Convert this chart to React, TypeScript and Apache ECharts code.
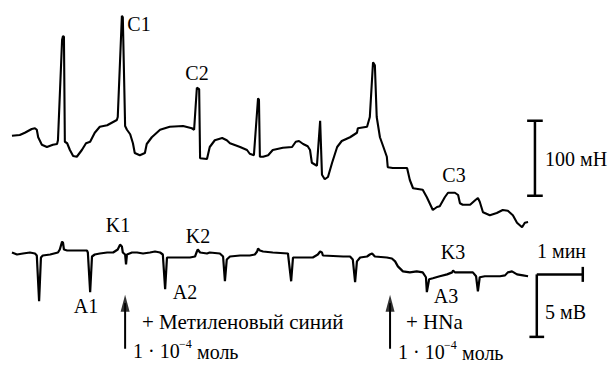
import React, { useEffect, useRef } from "react";
import * as echarts from "echarts";

// ---- Upper trace: contraction force (mN) vs time (min) ----
const forceTime = [
  0.00, 0.17, 0.28, 0.43, 0.50, 0.54, 0.57, 0.65, 0.76, 0.89,
  0.98, 1.00, 1.09, 1.11, 1.13, 1.15, 1.20, 1.26, 1.33, 1.41,
  1.52, 1.61, 1.70, 1.80, 1.91, 2.07, 2.28, 2.30, 2.39, 2.41,
  2.46, 2.50, 2.57, 2.63, 2.67, 2.78, 2.89, 2.93, 3.04, 3.22,
  3.43, 3.72, 3.91, 3.96, 4.02, 4.07, 4.09, 4.24, 4.30, 4.41,
  4.57, 4.67, 4.74, 4.96, 5.11, 5.17, 5.26, 5.35, 5.37, 5.39,
  5.46, 5.57, 5.67, 5.89, 6.09, 6.17, 6.24, 6.33, 6.43, 6.48,
  6.52, 6.63, 6.70, 6.74, 6.80, 6.87, 6.96, 7.07, 7.17, 7.35,
  7.50, 7.52, 7.72, 7.78, 7.85, 7.89, 7.93, 8.00, 8.07, 8.15,
  8.17, 8.28, 8.59, 8.65, 8.72, 8.93, 9.02, 9.15, 9.24, 9.30,
  9.41, 9.48, 9.63, 9.70, 9.74, 9.80, 9.96, 10.07, 10.13, 10.17,
  10.24, 10.39, 10.54, 10.67, 10.78, 10.89, 10.98, 11.09, 11.15, 11.22,
];
const forceValues = [
  139, 140, 143, 148, 149, 147, 137, 127, 124, 127,
  128, 133, 267, 272, 271, 131, 129, 120, 112, 111,
  120, 129, 131, 143, 151, 153, 160, 164, 299, 297,
  152, 147, 141, 129, 116, 113, 116, 128, 137, 147,
  151, 152, 149, 147, 203, 201, 109, 108, 124, 133,
  136, 133, 129, 124, 120, 115, 113, 189, 187, 111,
  111, 113, 120, 123, 124, 131, 132, 128, 125, 120,
  103, 99, 159, 87, 81, 84, 103, 124, 132, 137,
  143, 149, 151, 164, 237, 233, 164, 137, 125, 111,
  97, 96, 96, 80, 69, 67, 57, 40, 44, 45,
  57, 63, 63, 60, 49, 47, 47, 53, 56, 51,
  37, 33, 36, 40, 39, 33, 23, 17, 23, 24,
];

// ---- Lower trace: electrical potential (mV) vs time (min) ----
const potentialTime = [
  0.00, 0.11, 0.24, 0.39, 0.50, 0.54, 0.59, 0.63, 0.67, 0.83,
  1.00, 1.04, 1.09, 1.11, 1.13, 1.20, 1.41, 1.63, 1.65, 1.70,
  1.74, 1.80, 1.91, 2.07, 2.20, 2.30, 2.35, 2.39, 2.41, 2.46,
  2.48, 2.50, 2.61, 2.72, 2.85, 3.00, 3.11, 3.22, 3.28, 3.33,
  3.37, 3.65, 3.87, 3.98, 4.02, 4.04, 4.09, 4.24, 4.30, 4.52,
  4.59, 4.63, 4.67, 4.74, 4.96, 5.17, 5.28, 5.33, 5.35, 5.39,
  5.46, 5.67, 6.00, 6.07, 6.11, 6.54, 6.65, 6.70, 6.74, 6.76,
  7.20, 7.35, 7.41, 7.46, 7.50, 7.57, 7.72, 7.78, 7.83, 7.89,
  8.15, 8.26, 8.33, 8.39, 8.50, 8.65, 8.80, 8.93, 9.00, 9.02,
  9.07, 9.15, 9.30, 9.46, 9.57, 9.59, 9.63, 9.80, 10.02, 10.09,
  10.13, 10.17, 10.28, 10.46, 10.61, 10.72, 10.78, 10.87, 10.98, 11.11,
  11.22,
];
const potentialValues = [
  0, -0.16, -0.08, 0, -0.08, -0.24, -3.89, -0.40, -0.24, -0.16,
  0, 0.24, 0.87, 0.79, 0.24, 0.16, 0.16, 0.16, 0, -3.17,
  -0.32, -0.16, -0.08, 0, 0, 0.24, 0.63, 0.48, 0, -0.16,
  -0.95, -0.16, 0, 0, -0.08, 0, 0.08, 0, -0.16, -2.94,
  -0.40, -0.40, -0.40, -0.32, 0.08, 0.24, 0, -0.08, 0, -0.08,
  -0.32, -2.30, -0.56, -0.32, -0.24, -0.24, -0.16, 0.08, 0.32, 0.16,
  0.08, 0, -0.08, -2.30, -0.40, -0.40, -0.16, 0.08, 0, -0.24,
  -0.32, -0.32, -0.56, -2.38, -0.71, -0.40, -0.32, -0.16, -0.08, -0.32,
  -0.40, -0.48, -0.71, -1.11, -1.51, -1.59, -1.51, -1.59, -1.98, -3.17,
  -2.14, -2.06, -1.90, -1.75, -1.59, -1.43, -1.59, -1.59, -1.59, -1.90,
  -3.10, -1.98, -1.90, -1.90, -1.90, -1.83, -1.59, -1.51, -1.75, -1.83,
  -1.90,
];

// ---- Scale bars (100 mN, 1 min, 5 mV) ----
const forceBarTime = 11.37;
const forceBarRange = [59, 159]; // 100 mN
const potentialBarTime = 11.41;
const potentialBarRange = [-6.75, -1.75]; // 5 mV
const minuteBarRange = [11.41, 12.41]; // 1 min

// ---- Drug additions (arrows) ----
const additionTimes = [2.46, 8.22];
const arrowRange = [-7.7, -4.05];

// ---- Labels ----
const peakLabels = ["C1", "C2", "C3"];
const kLabels = ["K1", "K2", "K3"];
const aLabels = ["A1", "A2", "A3"];
const drugLabels = ["+ Метиленовый синий", "+ HNa"];
const doseMain = "1 · 10";
const doseExp = "−4";
const doseUnit = "моль";
const barLabels = ["100 мН", "1 мин", "5 мВ"];

const FONT = '"Liberation Serif", "Times New Roman", "DejaVu Serif", serif';

function zip(a: number[], b: number[]) {
  return a.map((v, i) => [v, b[i]]);
}

function seg(p: number[][], axis: number, w = 2.2) {
  return {
    type: "line",
    xAxisIndex: axis,
    yAxisIndex: axis,
    data: p,
    showSymbol: false,
    symbol: "none",
    silent: true,
    lineStyle: { color: "#000", width: w },
  };
}

function txt(text: string, x: number, y: number, align = "center", size = 20) {
  return {
    type: "text",
    x,
    y,
    silent: true,
    style: {
      text,
      fill: "#000",
      font: `${size}px ${FONT}`,
      fontSize: size,
      fontFamily: FONT,
      textAlign: align,
      align,
      textVerticalAlign: "middle",
      verticalAlign: "middle",
    },
  };
}

function dose(x: number, y: number) {
  return [
    txt(doseMain, x, y, "left", 20),
    txt(doseExp, x + 46, y - 7, "left", 12),
    txt(doseUnit, x + 64, y + 1, "left", 20),
  ];
}

export default function App() {
  const ref = useRef<HTMLDivElement>(null);
  useEffect(() => {
    document.body.style.margin = "0";
    if (!ref.current) return;
    const chart = echarts.init(ref.current, undefined, { renderer: "svg" });

    const series: any[] = [
      seg(zip(forceTime, forceValues), 0, 2.1),
      seg(zip(potentialTime, potentialValues), 1, 2.2),
      // 100 mN bar
      seg([[forceBarTime, forceBarRange[0]], [forceBarTime, forceBarRange[1]]], 0, 2.5),
      seg([[forceBarTime - 0.17, forceBarRange[1]], [forceBarTime + 0.17, forceBarRange[1]]], 0, 2.5),
      seg([[forceBarTime - 0.17, forceBarRange[0]], [forceBarTime + 0.17, forceBarRange[0]]], 0, 2.5),
      // 5 mV + 1 min bar
      seg([[potentialBarTime, potentialBarRange[0]], [potentialBarTime, potentialBarRange[1]]], 1, 2.5),
      seg([[minuteBarRange[0], potentialBarRange[1]], [minuteBarRange[1], potentialBarRange[1]]], 1, 2.5),
      seg([[minuteBarRange[1], potentialBarRange[1] + 0.6], [minuteBarRange[1], potentialBarRange[1] - 0.6]], 1, 2.5),
      seg([[potentialBarTime - 0.16, potentialBarRange[0]], [potentialBarTime + 0.16, potentialBarRange[0]]], 1, 2.5),
    ];
    additionTimes.forEach((t) => {
      series.push(seg([[t, arrowRange[0]], [t, arrowRange[1]]], 1, 2));
    });
    series.push({
      type: "scatter",
      xAxisIndex: 1,
      yAxisIndex: 1,
      silent: true,
      symbol: "triangle",
      symbolSize: [9, 17],
      itemStyle: { color: "#000" },
      data: additionTimes.map((t) => [t, arrowRange[1]]),
    });

    const graphic = [
      txt(peakLabels[0], 139, 24),
      txt(peakLabels[1], 197, 73),
      txt(peakLabels[2], 454, 175),
      txt(kLabels[0], 118, 225),
      txt(kLabels[1], 198, 236),
      txt(kLabels[2], 453, 252),
      txt(aLabels[0], 86, 306),
      txt(aLabels[1], 185, 292),
      txt(aLabels[2], 446, 296),
      txt(barLabels[0], 545, 159, "left"),
      txt(barLabels[1], 537, 251, "left"),
      txt(barLabels[2], 545, 312, "left"),
      txt(drugLabels[0], 142, 322, "left", 21),
      txt(drugLabels[1], 406, 322, "left", 21),
      ...dose(133, 351),
      ...dose(398, 352),
    ];

    chart.setOption({
      animation: false,
      backgroundColor: "#fff",
      grid: [
        { left: 0, right: 0, top: 0, height: 240 },
        { left: 0, right: 0, top: 190, height: 176.4 },
      ],
      xAxis: [
        { type: "value", gridIndex: 0, min: -0.26, max: 12.98, show: false },
        { type: "value", gridIndex: 1, min: -0.26, max: 12.98, show: false },
      ],
      yAxis: [
        { type: "value", gridIndex: 0, min: 0, max: 320, show: false },
        { type: "value", gridIndex: 1, min: -9, max: 5, show: false },
      ],
      series,
      graphic,
    });
    return () => chart.dispose();
  }, []);
  return <div ref={ref} style={{ width: 609, height: 365 }} />;
}
